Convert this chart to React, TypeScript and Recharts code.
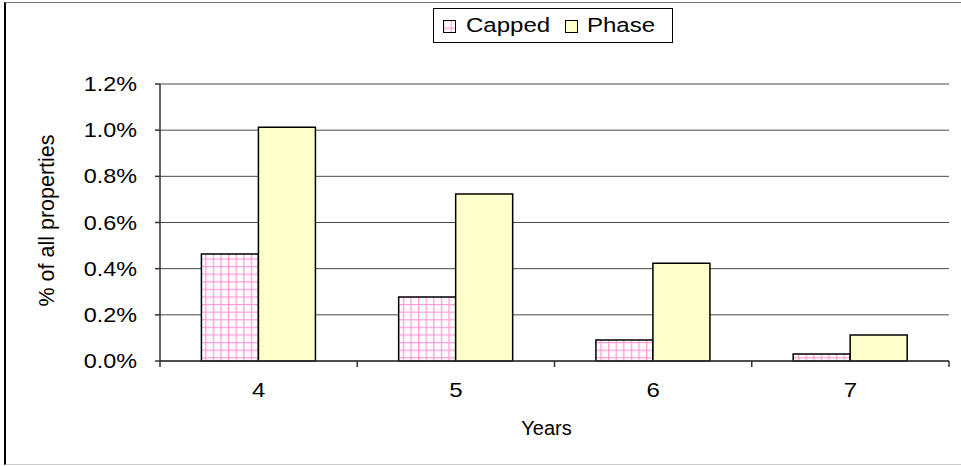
import React from 'react';
import { BarChart, Bar, XAxis, YAxis, CartesianGrid, Legend } from 'recharts';

const years = ['4', '5', '6', '7'];
const capped = [0.463, 0.277, 0.091, 0.03];
const phase = [1.013, 0.723, 0.424, 0.113];
const yTicks = [0, 0.2, 0.4, 0.6, 0.8, 1.0, 1.2];

const data = years.map((year, i) => ({ year, capped: capped[i], phase: phase[i] }));

const W = 961;
const H = 466;
const margin = { top: 84, right: 12, bottom: 25, left: 0 };
const Y_AXIS_W = 160;
const HALF = (W - Y_AXIS_W - margin.right) / years.length / 2;
const FONT = '"Liberation Sans", Arial, sans-serif';
// the original picture is a bit wider than tall, so its text looks stretched
const STRETCH = 1.2;

const XTick = (props: any) => {
  const { x, y, payload, index } = props;
  return (
    <g>
      <text
        transform={`translate(${x},${y + 36}) scale(${STRETCH},1)`}
        textAnchor="middle"
        fontSize={20}
        fontFamily={FONT}
        fill="#000"
      >
        {payload.value}
      </text>
      <line x1={x + HALF} x2={x + HALF} y1={y} y2={y + 6} stroke="#333" strokeWidth={1.5} />
      {index === 0 && <line x1={x - HALF} x2={x - HALF} y1={y} y2={y + 6} stroke="#333" strokeWidth={1.5} />}
    </g>
  );
};

const YTick = (props: any) => {
  const { x, y, payload } = props;
  return (
    <text
      transform={`translate(${x},${y + 7}) scale(${STRETCH},1)`}
      textAnchor="end"
      fontSize={19.5}
      fontFamily={FONT}
      fill="#000"
    >
      {`${payload.value.toFixed(1)}%`}
    </text>
  );
};

const stretched: React.CSSProperties = {
  display: 'inline-block',
  transform: `scaleX(${STRETCH})`,
  transformOrigin: 'left center',
};

const LegendBox = () => (
  <div
    style={{
      width: 238,
      height: 33,
      border: '1.5px solid #000',
      background: '#fff',
      fontFamily: FONT,
      fontSize: 20,
      color: '#000',
      boxSizing: 'content-box',
      position: 'relative',
    }}
  >
    <svg width={13} height={13} style={{ position: 'absolute', left: 9, top: 11 }}>
      <rect x={0.5} y={0.5} width={12} height={12} fill="url(#cappedGrid)" stroke="#000" strokeWidth={1} />
    </svg>
    <span style={{ ...stretched, position: 'absolute', left: 32, top: 5 }}>Capped</span>
    <svg width={13} height={13} style={{ position: 'absolute', left: 131, top: 11 }}>
      <rect x={0.5} y={0.5} width={12} height={12} fill="#FFFFCC" stroke="#000" strokeWidth={1} />
    </svg>
    <span style={{ ...stretched, position: 'absolute', left: 153, top: 5 }}>Phase</span>
  </div>
);

const App: React.FC = () => {
  return (
    <div style={{ position: 'absolute', left: 0, top: 0, width: W, height: H, background: '#fff' }}>
      <div
        style={{
          position: 'absolute',
          left: 4,
          top: 2,
          width: 955,
          height: 461,
          borderLeft: '2px solid #000',
          borderTop: '1.5px solid #777',
          borderBottom: '1px solid #ccc',
        }}
      />
      <div style={{ position: 'absolute', left: 0, top: 0 }}>
        <BarChart width={W} height={H} data={data} margin={margin} barCategoryGap="21%" barGap={0}>
          <defs>
            <pattern id="cappedGrid" width={7.6} height={7.6} patternUnits="userSpaceOnUse">
              <rect width={7.6} height={7.6} fill="#fff" />
              <path d="M0 0 H7.6 M0 0 V7.6" stroke="#ff9fd2" strokeWidth={2.6} />
            </pattern>
          </defs>
          <CartesianGrid vertical={false} stroke="#4a4a4a" strokeWidth={1} yAxisId="left" />
          <XAxis
            dataKey="year"
            height={80}
            tickLine={false}
            tickSize={0}
            tickMargin={0}
            axisLine={{ stroke: '#333', strokeWidth: 1.5 }}
            tick={<XTick />}
            interval={0}
            label={{
              value: 'Years',
              position: 'insideBottom',
              offset: 6,
              dx: -8,
              style: { fontSize: 20, fontFamily: FONT, fill: '#000' },
            }}
          />
          <YAxis
            yAxisId="left"
            width={Y_AXIS_W}
            domain={[0, 1.2]}
            ticks={yTicks}
            interval={0}
            tickSize={5}
            tickMargin={18}
            tick={<YTick />}
            tickLine={{ stroke: '#333', strokeWidth: 1.5 }}
            axisLine={{ stroke: '#333', strokeWidth: 1.5 }}
            label={{
              value: '% of all properties',
              angle: -90,
              position: 'insideLeft',
              offset: 46,
              dy: -2,
              style: { fontSize: 21.5, fontFamily: FONT, fill: '#000', textAnchor: 'middle' },
            }}
          />
          <YAxis
            yAxisId="right"
            orientation="right"
            width={0}
            tick={false}
            tickLine={false}
            axisLine={{ stroke: '#777', strokeWidth: 2 }}
          />
          <Legend
            layout="horizontal"
            verticalAlign="middle"
            align="center"
            content={<LegendBox />}
            wrapperStyle={{ top: 8, left: 433, width: 242, height: 36 }}
          />
          <Bar
            yAxisId="left"
            dataKey="capped"
            name="Capped"
            fill="url(#cappedGrid)"
            stroke="#000"
            strokeWidth={1.5}
            isAnimationActive={false}
          />
          <Bar
            yAxisId="left"
            dataKey="phase"
            name="Phase"
            fill="#FFFFCC"
            stroke="#000"
            strokeWidth={1.5}
            isAnimationActive={false}
          />
        </BarChart>
      </div>
    </div>
  );
};

export default App;
